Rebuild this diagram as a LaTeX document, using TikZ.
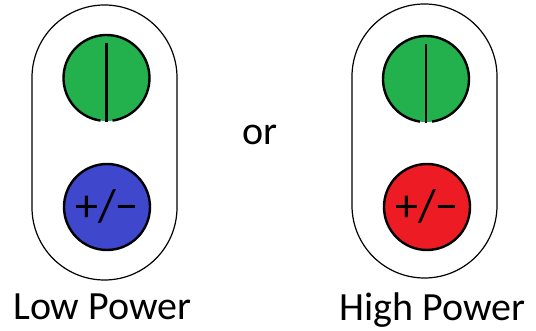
\documentclass[tikz,border=0pt]{standalone}
\usepackage{fontspec}
\setmainfont{Carlito}
\definecolor{pgreen}{HTML}{22B14C}
\definecolor{pblue}{HTML}{3F48CC}
\definecolor{pred}{HTML}{ED1C24}
\begin{document}
\begin{tikzpicture}[x=1pt,y=1pt,
  capsule/.style={draw=black,line width=1.2pt,rounded corners=72.5pt},
  lamp/.style={draw=black,line width=2.4pt},
  bar/.style={line width=2.6pt},
  pmtext/.style={font=\fontsize{46}{46}\selectfont,inner sep=0pt},
  label/.style={font=\fontsize{40}{40}\selectfont,inner sep=0pt,anchor=base west}]
\useasboundingbox (0,0) rectangle (536,331);
% left unit
\draw[capsule] (32,51) rectangle (177,326);
\fill[pgreen] (106.5,253) circle[radius=43];
\draw[lamp] (106.5,253) ++(-82:43) arc[start angle=-82,end angle=262,radius=43];
\draw[bar] (106.5,288) -- (106.5,209);
\node[lamp,fill=pblue,circle,minimum size=86pt,inner sep=0pt] (bl) at (107,124) {};
\node[pmtext] at (bl) {+/\char"2212};
% right unit
\draw[capsule] (352,53) rectangle (497,327);
\fill[pgreen] (426,252) circle[radius=43];
\draw[lamp] (426,252) ++(-82:43) arc[start angle=-82,end angle=262,radius=43];
\draw[bar] (426,287) -- (426,208);
\node[lamp,fill=pred,circle,minimum size=86pt,inner sep=0pt] (rd) at (427,124) {};
\node[pmtext] at (rd) {+/\char"2212};
% labels
\node[label] (or) at (242,186) {or};
\node[label] (lp) at (13,11) {Low Power};
\node[label] (hp) at (339,10) {High Power};
\end{tikzpicture}
\end{document}
